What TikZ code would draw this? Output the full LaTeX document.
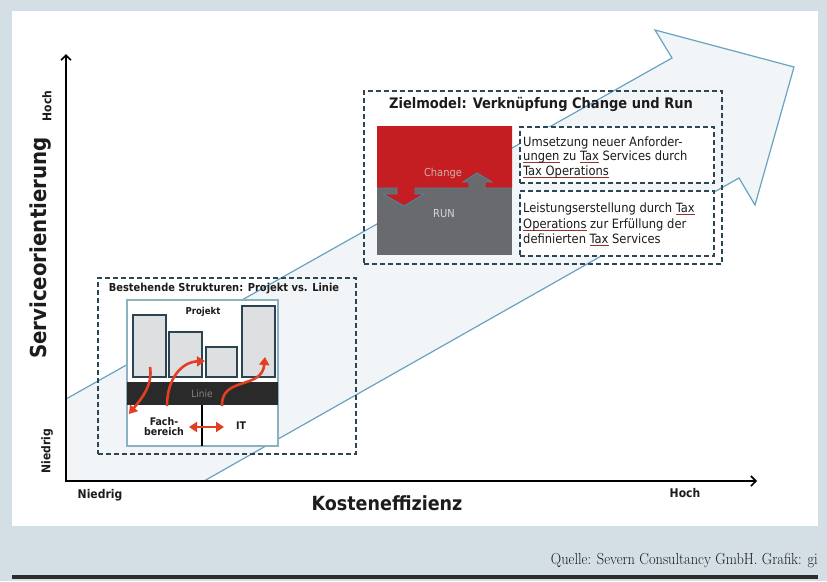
\documentclass[tikz,border=0pt]{standalone}
\usepackage{fontspec}
\usepackage{graphicx}
\usetikzlibrary{arrows.meta}
\newfontfamily\dv{DejaVu Sans Condensed}[BoldFont={DejaVu Sans Condensed Bold}]
\definecolor{bgc}{RGB}{211,223,228}
\definecolor{arrowfill}{RGB}{241,245,247}
\definecolor{arrowline}{RGB}{105,163,192}
\definecolor{dashc}{RGB}{45,70,85}
\definecolor{framec}{RGB}{140,178,194}
\definecolor{barfill}{RGB}{221,223,225}
\definecolor{barline}{RGB}{42,68,82}
\definecolor{liniec}{RGB}{42,42,42}
\definecolor{linietxt}{RGB}{130,130,130}
\definecolor{redarr}{RGB}{226,62,36}
\definecolor{changec}{RGB}{196,30,35}
\definecolor{changetxt}{RGB}{205,175,172}
\definecolor{runc}{RGB}{104,106,109}
\definecolor{runtxt}{RGB}{215,215,218}
\definecolor{tealc}{RGB}{70,140,160}
\definecolor{txt}{RGB}{28,28,28}
\definecolor{rulec}{RGB}{45,45,45}
\definecolor{ulred}{RGB}{150,50,45}
\newcommand\fsz[2]{\fontsize{#1}{#2}\selectfont}
% spell-check style underline
\newcommand\ulw[1]{\setbox0\hbox{#1}\rlap{\textcolor{ulred}{\rule[-2.4pt]{\wd0}{0.9pt}}}\box0\relax}
\begin{document}
\begin{tikzpicture}[x=1pt,y=-1pt,
  lab/.style={font=\dv\bfseries\fsz{12}{14}, text=txt, inner sep=0pt},
  bigl/.style={font=\dv\bfseries\fsz{19.5}{22}, text=txt, inner sep=0pt},
  body/.style={font=\dv\fsz{12.8}{15}, text=txt, inner sep=0pt, anchor=base west},
  dashbox/.style={draw=dashc, line width=1.5pt, dash pattern=on 5pt off 3pt, inner sep=0pt, anchor=north west},
  axis/.style={line width=2pt, black, {Straight Barb[length=5pt,width=10pt,line width=1.6pt]}-{Straight Barb[length=5pt,width=10pt,line width=1.6pt]}},
  redflow/.style={draw=redarr, line width=2.6pt, -{Triangle[length=8pt,width=10pt]}},
  bar/.style={draw=barline, fill=barfill, line width=1.5pt}]
\useasboundingbox (0,0) rectangle (827,581);
% page background and white panel
\fill[bgc] (0,0) rectangle (827,581);
\fill[white] (12,11) rectangle (818,526);

% large arrow in the background
\fill[arrowfill] (66,399) -- (672,58) -- (655,30) -- (794,67) -- (755,205) -- (739,178) -- (204,481) -- (66,481) -- cycle;
\draw[arrowline, line width=1.2pt, line join=miter] (66,399) -- (672,58) -- (655,30) -- (794,67) -- (755,205) -- (739,178) -- (204,481);

% axes
\coordinate (ytop) at (66,54);
\coordinate (orig) at (66,481);
\coordinate (xend) at (757,481);
\draw[axis] (ytop) -- (orig) -- (xend);
\node[lab, rotate=90] (yhoch) at (47,106) {Hoch};
\node[bigl, font=\dv\bfseries\fsz{22}{24}, rotate=90] (ylab) at (41,248) {Serviceorientierung};
\node[lab, rotate=90] (yniedrig) at (47,451) {Niedrig};
\node[lab] (xniedrig) at (100,495) {Niedrig};
\node[bigl] (xlab) at (387,503) {Kosteneffizienz};
\node[lab] (xhoch) at (685,493) {Hoch};

% target model
\node[dashbox, minimum width=358pt, minimum height=173pt] (ziel) at (363,90) {};
\node[font=\dv\bfseries\fsz{14.5}{16}, text=txt, inner sep=0pt] (zieltitle) at (541,104) {Zielmodel: Verknüpfung Change und Run};
\fill[runc] (377,126) rectangle (512,255);
\fill[changec] (377,126) -- (512,126) -- (512,188) -- (485,188) -- (485,182) -- (492,182) -- (477,173) -- (463,182) -- (469,182) -- (469,188) -- (415,188) -- (415,194) -- (424,194) -- (404,206) -- (383,194) -- (397,194) -- (397,188) -- (377,188) -- cycle;
\draw[tealc, line width=0.9pt] (512,188) -- (485,188) -- (485,182) -- (492,182) -- (477,173) -- (463,182) -- (469,182) -- (469,188) -- (415,188) -- (415,194) -- (424,194) -- (404,206) -- (383,194) -- (397,194) -- (397,188) -- (377,188);
\node[font=\dv\fsz{11}{12}, text=changetxt, inner sep=0pt] (change) at (443,173) {Change};
\node[font=\dv\fsz{11}{12}, text=runtxt, inner sep=0pt] (run) at (444,214) {RUN};

\node[dashbox, fill=white, minimum width=194pt, minimum height=56pt] (tb1) at (519,126) {};
\node[body] (tb1a) at (523,146.5) {Umsetzung neuer Anforder-};
\node[body] (tb1b) at (523,160.5) {\ulw{ungen} zu \ulw{Tax} Services durch};
\node[body] (tb1c) at (523,175) {\ulw{Tax Operations}};
\node[dashbox, fill=white, minimum width=194pt, minimum height=65pt] (tb2) at (519,190) {};
\node[body] (tb2a) at (523,212.5) {Leistungserstellung durch \ulw{Tax}};
\node[body] (tb2b) at (523,228) {\ulw{Operations} zur Erfüllung der};
\node[body] (tb2c) at (523,243.5) {definierten \ulw{Tax} Services};

% existing structures
\node[dashbox, minimum width=258pt, minimum height=176pt] (best) at (97,277) {};
\node[font=\dv\bfseries\fsz{11}{12}, text=txt, inner sep=0pt] (besttitle) at (224,289) {Bestehende Strukturen: Projekt vs. Linie};
\draw[framec, fill=white, line width=1.2pt] (127,300) rectangle (278,446);
\draw[bar] (133,315) rectangle (166,377);
\draw[bar] (169,332) rectangle (202,377);
\draw[bar] (206,347) rectangle (237,377);
\draw[bar] (242,306) rectangle (275,377);
\node[font=\dv\bfseries\fsz{9.5}{11}, text=txt, inner sep=0pt] (projekt) at (203,312) {Projekt};
\fill[liniec] (127,382) rectangle (278,405);
\node[font=\dv\fsz{10}{11}, text=linietxt, inner sep=0pt] (linie) at (202,394) {Linie};
\coordinate (divtop) at (202,405);
\coordinate (divbot) at (202,446);
\draw[black, line width=2pt] (divtop) -- (divbot);
\node[font=\dv\bfseries\fsz{10.5}{10}, text=txt, align=center, inner sep=0pt] (fach) at (164,427) {Fach-\\bereich};
\node[font=\dv\bfseries\fsz{10.5}{12}, text=txt, inner sep=0pt] (it) at (241,426) {IT};

% flows between project and line organisation
\coordinate (f1a) at (150,367); \coordinate (f1b) at (129,414);
\coordinate (f2a) at (167,406); \coordinate (f2b) at (205,361);
\coordinate (f3a) at (222,406); \coordinate (f3b) at (265,357);
\coordinate (f4a) at (189,427); \coordinate (f4b) at (224,427);
\draw[redflow] (f1a) .. controls (153,385) and (142,398) .. (f1b);
\draw[redflow] (f2a) .. controls (167,378) and (182,362) .. (f2b);
\draw[redflow] (f3a) .. controls (221,376) and (262,390) .. (f3b);
\draw[draw=redarr, line width=2.6pt, {Triangle[length=8pt,width=10pt]}-{Triangle[length=8pt,width=10pt]}] (f4a) -- (f4b);

% source line
\node[anchor=base east, font=\fsz{16}{18}, text=txt, inner sep=0pt] (src) at (818,564) {\scalebox{0.9}[1]{Quelle: Severn Consultancy GmbH. Grafik: gi}};
\coordinate (rulel) at (12,577);
\coordinate (ruler) at (818,577);
\draw[line width=3.5pt, rulec] (rulel) -- (ruler);
\end{tikzpicture}
\end{document}
